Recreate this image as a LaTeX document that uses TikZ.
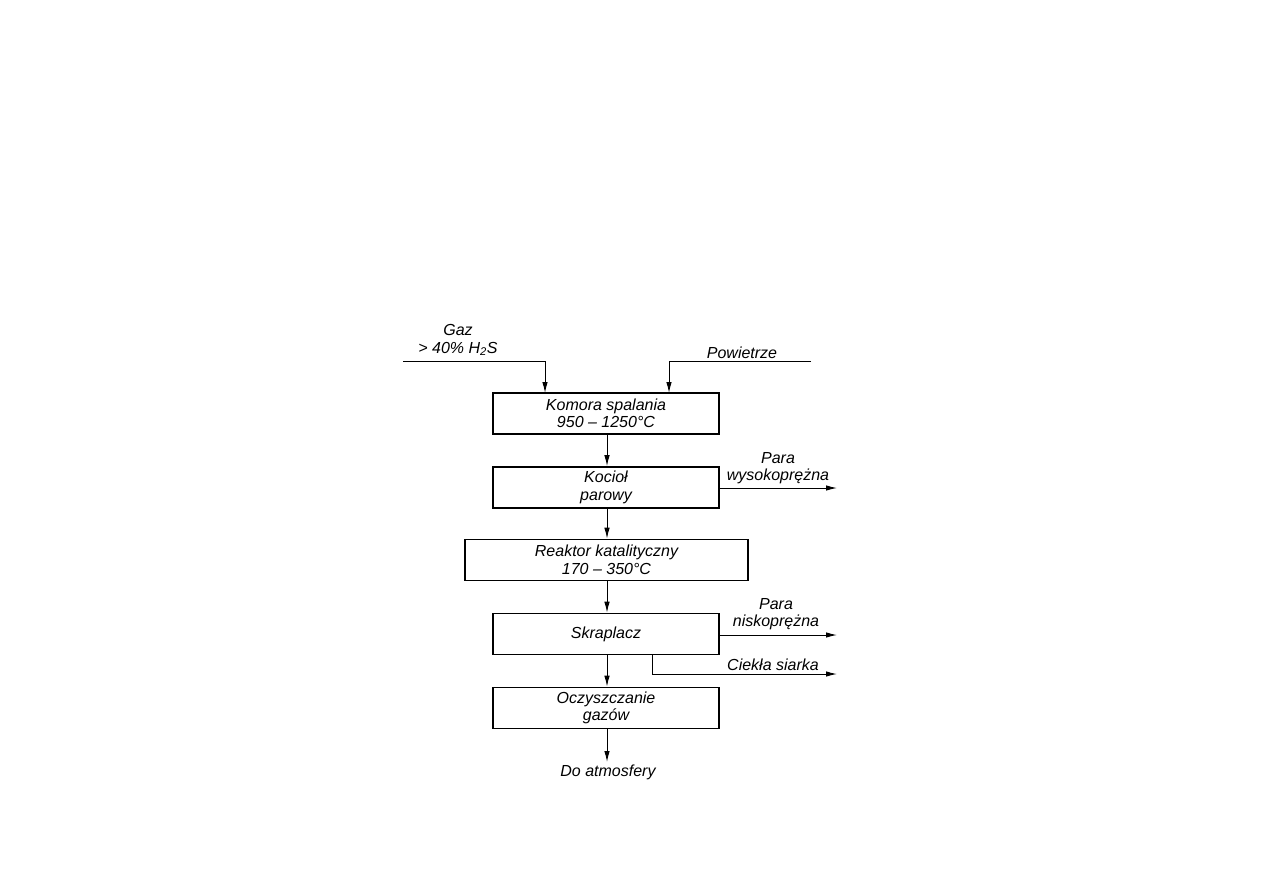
\documentclass[tikz,border=0pt]{standalone}
\usepackage{fontspec}
\setmainfont{Liberation Sans}
\usetikzlibrary{arrows.meta}
\begin{document}
\begin{tikzpicture}[x=1pt,y=-1pt,
  every node/.style={font=\fontsize{16}{17.5}\selectfont\itshape, inner sep=0pt, align=center},
  box/.style={draw, line width=1.6pt, minimum height=41pt},
  conn/.style={line width=1pt},
  arr/.style={conn, -{Latex[length=11pt,width=5.5pt]}}]
\useasboundingbox (0,0) rectangle (1263,893);
% boxes
\node[box, minimum width=226pt] (komora) at (606,413.5) {Komora spalania\\950 – 1250°C};
\node[box, minimum width=226pt] (kociol) at (606,487.5) {Kocioł\\parowy};
\node[box, minimum width=283pt] (reaktor) at (606.5,560) {Reaktor katalityczny\\170 – 350°C};
\node[box, minimum width=226pt] (skraplacz) at (606,634) {Skraplacz};
\node[box, minimum width=226pt] (oczysz) at (606,708) {Oczyszczanie\\gazów};
% labels
\node (gaz) at (458,340) {Gaz\\> 40\% H\textsubscript{2}S};
\node (powietrze) at (742,353) {Powietrze};
\node (parawys) at (778,468) {Para\\wysokoprężna};
\node (paranis) at (776,614) {Para\\niskoprężna};
\node (ciekla) at (773,665) {Ciekła siarka};
\node (atm) at (608,772) {Do atmosfery};
% free ends
\coordinate (gazstart) at (403,361);
\coordinate (gazin) at (545,393);
\coordinate (powstart) at (811,361);
\coordinate (powin) at (669,393);
\coordinate (wysend) at (837,488);
\coordinate (nisend) at (837,635);
\coordinate (siarkaout) at (652,654);
\coordinate (siarkaend) at (837,674);
\coordinate (atmend) at (607,762);
% connectors
\draw[arr] (gazstart) -| (gazin);
\draw[arr] (powstart) -| (powin);
\draw[arr] (komora.south -| 607,0) -- (kociol.north -| 607,0);
\draw[arr] (kociol.south -| 607,0) -- (reaktor.north -| 607,0);
\draw[arr] (reaktor.south -| 607,0) -- (skraplacz.north -| 607,0);
\draw[arr] (skraplacz.south -| 607,0) -- (oczysz.north -| 607,0);
\draw[arr] (oczysz.south -| 607,0) -- (atmend);
\draw[arr] (kociol.east |- wysend) -- (wysend);
\draw[arr] (skraplacz.east |- nisend) -- (nisend);
\draw[arr] (siarkaout) |- (siarkaend);
\end{tikzpicture}
\end{document}
